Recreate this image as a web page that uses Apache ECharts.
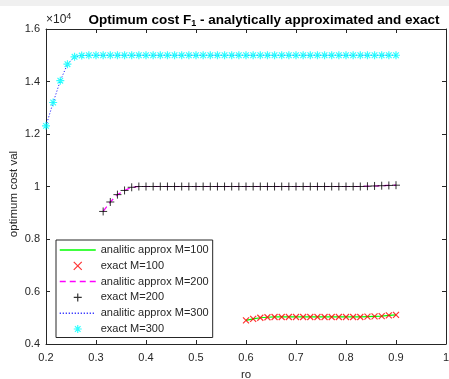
<!DOCTYPE html>
<html><head><meta charset="utf-8">
<script src="https://cdn.jsdelivr.net/npm/echarts@6/dist/echarts.min.js"></script>
<style>html,body{margin:0;padding:0;background:#fff}#c{width:449px;height:379px}</style>
</head><body><div id="c"></div>
<script>
// ro values (linspace 0.2 .. 0.9, 50 points)
const ro = [0.2000,0.2143,0.2286,0.2429,0.2571,0.2714,0.2857,0.3000,0.3143,0.3286,
  0.3429,0.3571,0.3714,0.3857,0.4000,0.4143,0.4286,0.4429,0.4571,0.4714,
  0.4857,0.5000,0.5143,0.5286,0.5429,0.5571,0.5714,0.5857,0.6000,0.6143,
  0.6286,0.6429,0.6571,0.6714,0.6857,0.7000,0.7143,0.7286,0.7429,0.7571,
  0.7714,0.7857,0.8000,0.8143,0.8286,0.8429,0.8571,0.8714,0.8857,0.9000];
// M=300 from ro[0]
const costM300 = [12310,13200,14030,14660,14940,14990,15000,15000,15000,15000,
  15000,15000,15000,15000,15000,15000,15000,15000,15000,15000,
  15000,15000,15000,15000,15000,15000,15000,15000,15000,15000,
  15000,15000,15000,15000,15000,15000,15000,15000,15000,15000,
  15000,15000,15000,15000,15000,15000,15000,15000,15000,15000];
// M=200 from ro[8]
const startM200 = 8;
const costM200 = [9050,9410,9690,9850,9970,10000,10000,10000,10000,10000,
  10000,10000,10000,10000,10000,10000,10000,10000,10000,10000,
  10000,10000,10000,10000,10000,10000,10000,10000,10000,10000,
  10000,10000,10000,10000,10000,10000,10000,10010,10020,10030,10040,10050];
// M=100 from ro[28]
const startM100 = 28;
const costM100 = [4900,4960,5000,5020,5030,5030,5030,5030,5030,5030,5030,
  5030,5030,5030,5030,5030,5030,5040,5050,5060,5090,5110];
const xTicks = [0.2,0.3,0.4,0.5,0.6,0.7,0.8,0.9,1];
const yTicks = [0.4,0.6,0.8,1,1.2,1.4,1.6];

function pairs(start, vals){ return vals.map((v,i)=>[ro[start+i], v]); }
const d100 = pairs(startM100, costM100);
const d200 = pairs(startM200, costM200);
const d300 = pairs(0, costM300);

const FONT = 'Liberation Sans, Arial, sans-serif';
const TXT = '#262626';
const CLEAR = 'rgba(0,0,0,0)';
const symX = 'path://M0,0L10,10M10,0L0,10';
const symPlus = 'path://M5,0L5,10M0,5L10,5';
const symStar = 'path://M5,0L5,10M0,5L10,5M1.5,1.5L8.5,8.5M8.5,1.5L1.5,8.5';

const chart = echarts.init(document.getElementById('c'), null, {renderer:'canvas'});
const axisLine = {show:true, lineStyle:{color:TXT, width:1}};
chart.setOption({
  backgroundColor:'#ffffff',
  animation:false,
  title:{
    text:'Optimum cost F{sub|1} - analytically approximated and exact',
    left:259, top:7, textAlign:'center',
    textStyle:{fontFamily:FONT, fontSize:13.5, fontWeight:'bold', color:'#000',
      rich:{sub:{fontFamily:FONT, fontSize:9, fontWeight:'bold', color:'#000', verticalAlign:'bottom', padding:[7,0,0,0]}}}
  },
  graphic:[
    {type:'rect', shape:{x:0,y:0,width:449,height:6}, style:{fill:'#f0f0f0'}, silent:true},
    {type:'text', left:46, top:12, style:{text:'×10{s|4}', fontFamily:FONT, fontSize:12, fill:TXT,
      rich:{s:{fontSize:9, fontFamily:FONT, fill:TXT, verticalAlign:'top', padding:[0,0,7,0]}}}},
    {type:'text', x:14, y:194, rotation:Math.PI/2, style:{text:'optimum cost val', fontFamily:FONT, fontSize:11.5,
      fill:TXT, align:'center', verticalAlign:'middle'}}
  ],
  grid:{left:46, right:3, top:29, bottom:35, containLabel:false, outerBoundsMode:'none'},
  legend:{
    orient:'vertical', left:56, top:240,
    padding:[4,4,2,3], itemGap:3.3, itemWidth:36, itemHeight:8,
    backgroundColor:'#fff', borderColor:TXT, borderWidth:1,
    lineStyle:{width:1.5}, itemStyle:{borderWidth:1.2},
    textStyle:{fontFamily:FONT, fontSize:11, color:TXT, lineHeight:12},
    data:['analitic approx M=100','exact M=100','analitic approx M=200','exact M=200','analitic approx M=300','exact M=300']
  },
  xAxis:[{
    type:'value', min:0.2, max:1, interval:0.1,
    axisLine:axisLine, splitLine:{show:false},
    axisTick:{inside:true, length:4, lineStyle:{color:TXT}},
    axisLabel:{fontFamily:FONT, fontSize:11, color:TXT, margin:8,
      formatter:v=>{const r=Math.round(v*10)/10; return xTicks.includes(r)? String(r):'';}},
    name:'ro', nameLocation:'middle', nameGap:25,
    nameTextStyle:{fontFamily:FONT, fontSize:11.5, color:TXT}
  },{
    type:'value', position:'top', min:0.2, max:1, interval:0.1,
    axisLine:axisLine, splitLine:{show:false},
    axisTick:{inside:true, length:4, lineStyle:{color:TXT}}, axisLabel:{show:false}
  }],
  yAxis:[{
    type:'value', min:4000, max:16000, interval:2000,
    axisLine:axisLine, splitLine:{show:false},
    axisTick:{inside:true, length:4, lineStyle:{color:TXT}},
    axisLabel:{fontFamily:FONT, fontSize:11, color:TXT, margin:6,
      formatter:v=>{const r=Math.round(v/1000)/10; return yTicks.includes(r)? String(r):'';}}
  },{
    type:'value', position:'right', min:4000, max:16000, interval:2000,
    axisLine:axisLine, splitLine:{show:false},
    axisTick:{inside:true, length:4, lineStyle:{color:TXT}}, axisLabel:{show:false}
  }],
  series:[
    {name:'analitic approx M=100', type:'line', data:d100, symbol:'none', showSymbol:false,
      lineStyle:{color:'#00ff00', width:1.2, type:'solid'}, itemStyle:{color:CLEAR, borderColor:CLEAR}, z:2},
    {name:'exact M=100', type:'scatter', data:d100, symbol:symX, symbolSize:6, symbolKeepAspect:true,
      itemStyle:{color:'none', borderColor:'#ff0000', borderWidth:1.2}, z:3},
    {name:'analitic approx M=200', type:'line', data:d200, symbol:'none', showSymbol:false,
      lineStyle:{color:'#ff00ff', width:1.2, type:[6,4]}, itemStyle:{color:CLEAR, borderColor:CLEAR}, z:2},
    {name:'exact M=200', type:'scatter', data:d200, symbol:symPlus, symbolSize:8, symbolKeepAspect:true,
      itemStyle:{color:'none', borderColor:'#000000', borderWidth:1}, z:3},
    {name:'analitic approx M=300', type:'line', data:d300, symbol:'none', showSymbol:false,
      lineStyle:{color:'#0000ff', width:1, type:[1,2]}, itemStyle:{color:CLEAR, borderColor:CLEAR}, z:2},
    {name:'exact M=300', type:'scatter', data:d300, symbol:symStar, symbolSize:8, symbolKeepAspect:true,
      itemStyle:{color:'none', borderColor:'#00ffff', borderWidth:1.2}, z:3}
  ]
});
</script></body></html>
